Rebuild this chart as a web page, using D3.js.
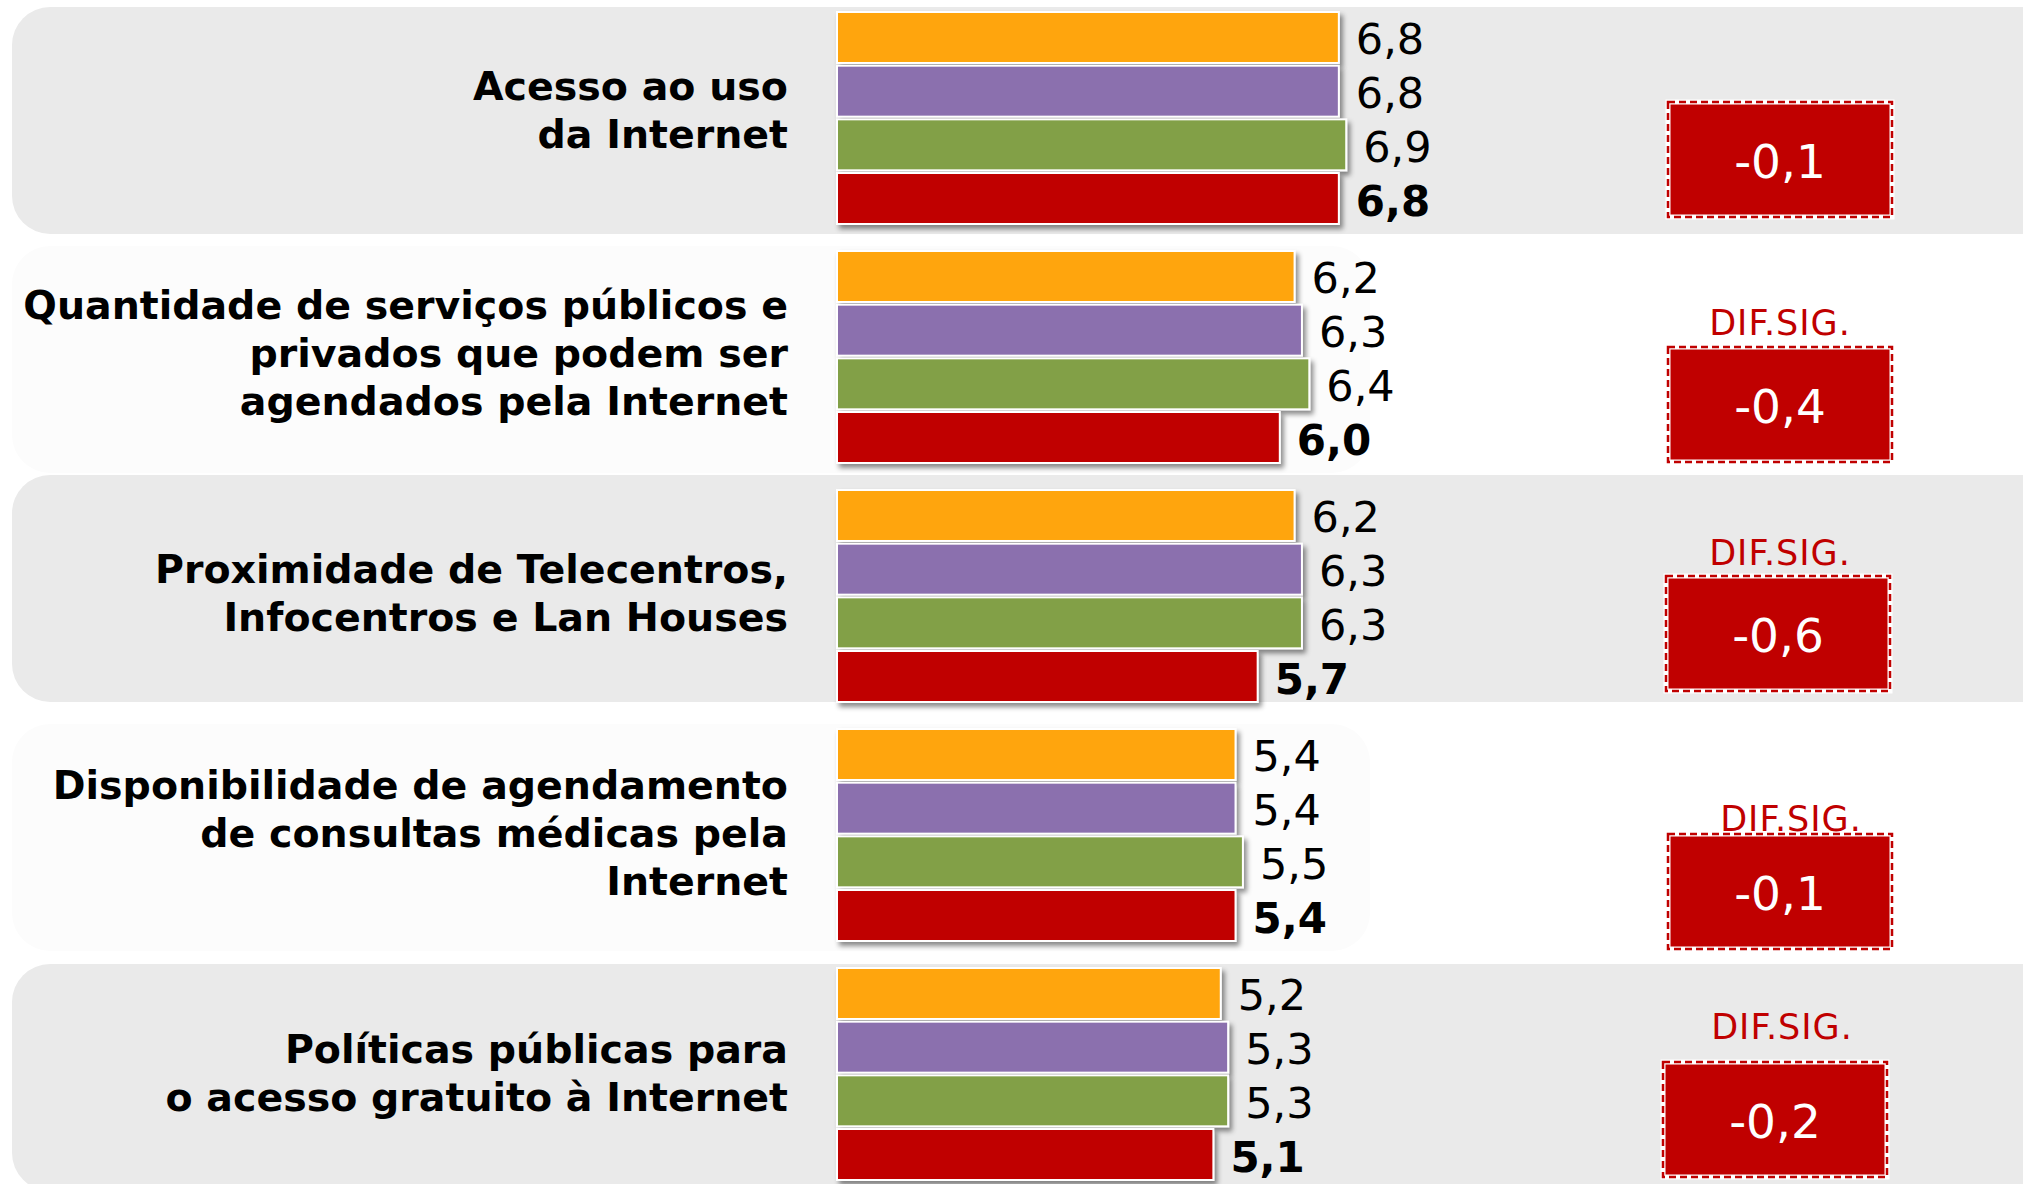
<!DOCTYPE html>
<html>
<head>
<meta charset="utf-8">
<script src="https://cdn.jsdelivr.net/npm/d3@7"></script>
<style>
    body { margin: 0; background: #ffffff; }
    svg { display: block; font-family: "DejaVu Sans", Verdana, sans-serif; }
</style>
</head>
<body>
<div class="Chart"></div>
<script>

// categories, one entry per line of the wrapped label
const categories = [
    ["Acesso ao uso", "da Internet"],
    ["Quantidade de serviços públicos e", "privados que podem ser", "agendados pela Internet"],
    ["Proximidade de Telecentros,", "Infocentros e Lan Houses"],
    ["Disponibilidade de agendamento", "de consultas médicas pela", "Internet"],
    ["Políticas públicas para", "o acesso gratuito à Internet"]
];

const series_names = ["serie_1", "serie_2", "serie_3", "serie_4"];
const series_colors = ["#ffa50a", "#8b6fae", "#82a046", "#c00000"];

const serie_1 = [6.8, 6.2, 6.2, 5.4, 5.2];
const serie_2 = [6.8, 6.3, 6.3, 5.4, 5.3];
const serie_3 = [6.9, 6.4, 6.3, 5.5, 5.3];
const serie_4 = [6.8, 6.0, 5.7, 5.4, 5.1];

const differences = [-0.1, -0.4, -0.6, -0.1, -0.2];
const significant = [false, true, true, true, true];
const significance_label = "DIF.SIG.";

// small hand placed nudges (as on the original slide)
const panel_nudge = [-5, -5, -15, -5, -4];
const label_nudge = [-4, 0, 1, 2, 3];
const box_nudge = [[0, -5], [0, 1], [-2, -9], [0, 10], [-5, -1]];
const sig_nudge = [[0, 0], [0, -12], [2, -11], [11, -3], [7, -23]];

const series_values = [serie_1, serie_2, serie_3, serie_4];

const width = 2023;
const height = 1184;

const locale = d3.formatLocale({decimal: ",", thousands: ".", grouping: [3], currency: ["R$", ""], minus: "-"});
const fmt = locale.format(".1f");

const group_ids = categories.map(c => c.join(" "));

const y_group = d3.scaleBand()
    .domain(group_ids)
    .range([12, 12 + 239 * categories.length])
    .padding(0);

const y_series = d3.scaleBand()
    .domain(series_names)
    .range([0, 212])
    .paddingInner(0.05);

const x = d3.scaleLinear()
    .domain([0, 10])
    .range([837, 837 + 738]);

const svg = d3.select(".Chart")
    .append("svg")
    .attr("width", width)
    .attr("height", height);

const shadow = svg.append("defs")
    .append("filter")
    .attr("id", "bar_shadow")
    .attr("x", "-5%").attr("y", "-20%")
    .attr("width", "115%").attr("height", "160%");
shadow.append("feDropShadow")
    .attr("dx", 3)
    .attr("dy", 4)
    .attr("stdDeviation", 2.5)
    .attr("flood-color", "#000000")
    .attr("flood-opacity", 0.45);

const groups = svg.selectAll(".Group")
    .data(categories.map((lines, i) => ({
        id: group_ids[i],
        lines: lines,
        index: i,
        values: series_values.map((s, k) => ({serie: series_names[k], color: series_colors[k], value: s[i], last: k === series_names.length - 1})),
        diff: differences[i],
        sig: significant[i]
    })))
    .join("g")
    .attr("class", "Group")
    .attr("transform", d => `translate(0, ${y_group(d.id)})`);

// alternating background panels
groups.append("rect")
    .attr("class", "Panel")
    .attr("x", 12)
    .attr("y", d => panel_nudge[d.index])
    .attr("width", d => d.index % 2 === 0 ? width + 60 : 1358)
    .attr("height", 227)
    .attr("rx", 38)
    .attr("fill", d => d.index % 2 === 0 ? "#eaeaea" : "#fcfcfc");

// category labels, right aligned next to the bars
groups.append("text")
    .attr("class", "Label")
    .attr("text-anchor", "end")
    .attr("font-weight", "bold")
    .attr("font-size", 39.5)
    .attr("fill", "#000000")
    .selectAll("tspan")
    .data(d => d.lines.map((line, j) => ({line, j, n: d.lines.length, index: d.index})))
    .join("tspan")
    .attr("x", 788)
    .attr("y", d => 106 - (d.n - 1) * 24 + 10 + d.j * 48 + label_nudge[d.index])
    .text(d => d.line);

// bars
const bars = groups.selectAll(".Bar")
    .data(d => d.values)
    .join("g")
    .attr("class", "Bar");

bars.append("rect")
    .attr("x", x(0))
    .attr("y", d => y_series(d.serie))
    .attr("width", d => x(d.value) - x(0))
    .attr("height", y_series.bandwidth())
    .attr("fill", d => d.color)
    .attr("stroke", "#ffffff")
    .attr("stroke-width", 2)
    .attr("filter", "url(#bar_shadow)");

bars.append("text")
    .attr("x", d => x(d.value) + 17)
    .attr("y", d => y_series(d.serie) + y_series.bandwidth() / 2 + 17)
    .attr("font-size", d => d.last ? 42 : 43)
    .attr("font-weight", d => d.last ? "bold" : "normal")
    .attr("fill", "#000000")
    .text(d => fmt(d.value));

// difference boxes on the right
const boxes = groups.append("g")
    .attr("class", "DiffBox")
    .attr("transform", d => `translate(${1668 + box_nudge[d.index][0]}, ${95 + box_nudge[d.index][1]})`);

boxes.append("rect")
    .attr("width", 224)
    .attr("height", 115)
    .attr("fill", "#c00000")
    .attr("stroke", "#ffffff")
    .attr("stroke-width", 5);

boxes.append("rect")
    .attr("width", 224)
    .attr("height", 115)
    .attr("fill", "none")
    .attr("stroke", "#c00000")
    .attr("stroke-width", 2.5)
    .attr("stroke-dasharray", "7,4");

boxes.append("text")
    .attr("x", 112)
    .attr("y", 76)
    .attr("text-anchor", "middle")
    .attr("font-size", 47)
    .attr("fill", "#ffffff")
    .text(d => fmt(d.diff));

boxes.filter(d => d.sig)
    .append("text")
    .attr("x", d => 112 + sig_nudge[d.index][0])
    .attr("y", d => sig_nudge[d.index][1])
    .attr("text-anchor", "middle")
    .attr("font-size", 35)
    .attr("letter-spacing", 1)
    .attr("fill", "#c00000")
    .text(significance_label);

</script>
</body>
</html>
